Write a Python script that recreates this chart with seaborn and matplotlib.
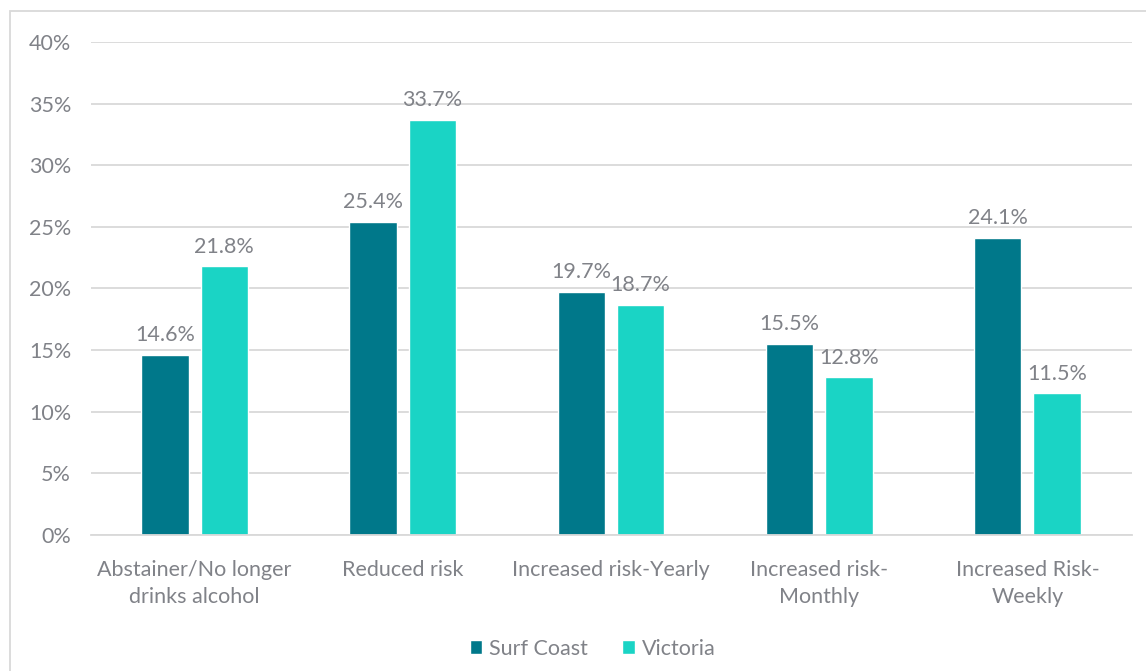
import matplotlib
matplotlib.use("Agg")
import matplotlib.pyplot as plt
import seaborn as sns
import pandas as pd
from matplotlib.patches import Rectangle, Patch
from matplotlib.ticker import FuncFormatter, MultipleLocator

categories = ["Abstainer/No longer\ndrinks alcohol", "Reduced risk", "Increased risk-Yearly",
              "Increased risk-\nMonthly", "Increased Risk-\nWeekly"]
series_names = ["Surf Coast", "Victoria"]
surf_coast = [14.6, 25.4, 19.7, 15.5, 24.1]
victoria = [21.8, 33.7, 18.7, 12.8, 11.5]
colors = ["#00788A", "#1AD4C5"]

df = pd.DataFrame({
    "category": categories * 2,
    "series": [series_names[0]] * 5 + [series_names[1]] * 5,
    "value": [v / 100 for v in surf_coast + victoria],
})

sns.set_theme(style="white")
plt.rcParams["font.family"] = ["Lato", "DejaVu Sans"]
text_gray = "#808288"
grid_gray = "#D9D9D9"

fig = plt.figure(figsize=(11.46, 6.71), dpi=100)
ax = fig.add_axes([90.5 / 1146, 0.2027, 1041 / 1146, 0.7347])

sns.barplot(data=df, x="category", y="value", hue="series", order=categories,
            hue_order=series_names, palette=colors, width=0.57, gap=0.2,
            saturation=1, ax=ax, legend=False, errorbar=None)

ax.set_xlim(-0.5, 4.5)
ax.set_ylim(0, 0.40)
ax.yaxis.set_major_locator(MultipleLocator(0.05))
ax.yaxis.set_major_formatter(FuncFormatter(lambda v, _: f"{v * 100:.0f}%"))
ax.grid(axis="y", color=grid_gray, linewidth=1.3)
ax.set_axisbelow(True)
for s in ["left", "right", "top"]:
    ax.spines[s].set_visible(False)
ax.spines["bottom"].set_color(grid_gray)
ax.spines["bottom"].set_linewidth(1.3)
ax.tick_params(axis="y", length=0, pad=14, labelsize=15.5, labelcolor=text_gray)
ax.tick_params(axis="x", length=0, pad=18, labelsize=15.5, labelcolor=text_gray)
for lbl in ax.get_xticklabels():
    lbl.set_linespacing(1.45)
ax.set_xlabel("")
ax.set_ylabel("")

for container in ax.containers:
    ax.bar_label(container, labels=[f"{b.get_height() * 100:.1f}%" for b in container],
                 padding=7, fontsize=15.5, color=text_gray)

handles = [Patch(facecolor=c, label=n) for c, n in zip(colors, series_names)]
fig.legend(handles=handles, loc="center", bbox_to_anchor=(0.517, 0.033), ncol=2,
           frameon=False, fontsize=15.5, labelcolor=text_gray, handlelength=0.6,
           handleheight=0.6, handletextpad=0.3, columnspacing=1.6)

# chart frame
fig.patches.append(Rectangle((10 / 1146, -0.01), 1.2, 1 - 11 / 671 + 0.01,
                             transform=fig.transFigure, fill=False,
                             edgecolor="#D9D9D9", linewidth=1.3))

fig.savefig("out.png", dpi=100)
